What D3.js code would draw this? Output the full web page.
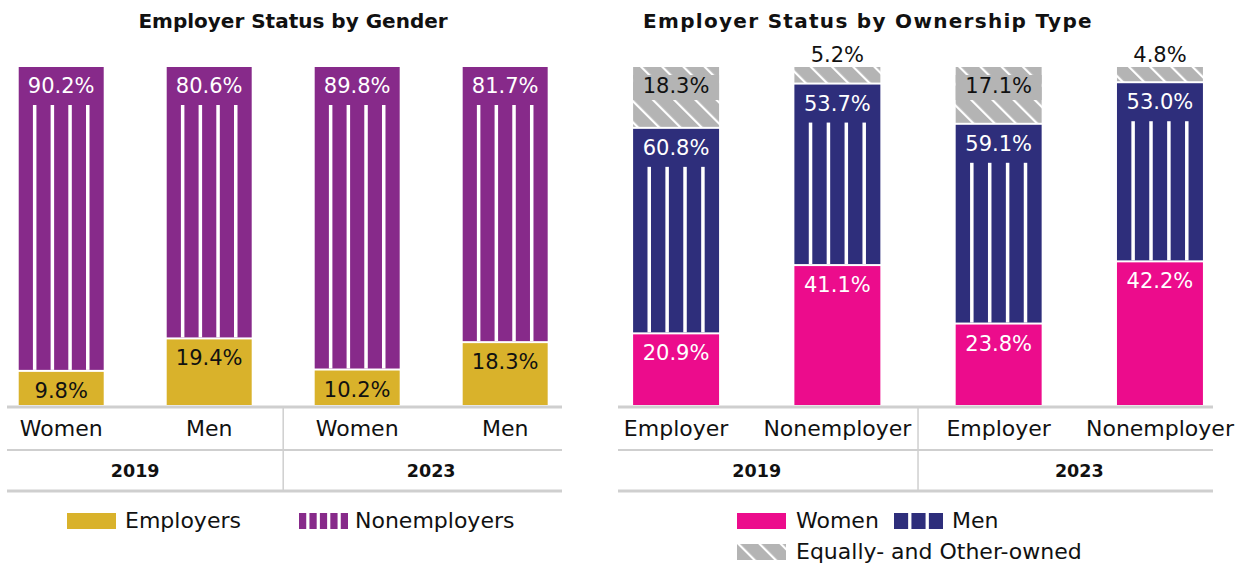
<!DOCTYPE html>
<html>
<head>
<meta charset="utf-8">
<script src="https://cdn.jsdelivr.net/npm/d3@7"></script>
<style>
  body { margin: 0; background: #fff; }
  svg text { font-family: "DejaVu Sans", sans-serif; }
</style>
</head>
<body>
<svg id="chart" width="1238" height="563"></svg>
<script>
// ---- data ----
const years = ["2019", "2023"];
const barYears = ["2019", "2019", "2023", "2023"];

const genderCats = ["Women", "Men", "Women", "Men"];
const employers = [9.8, 19.4, 10.2, 18.3];
const nonemployers = [90.2, 80.6, 89.8, 81.7];

const ownCats = ["Employer", "Nonemployer", "Employer", "Nonemployer"];
const womenOwned = [20.9, 41.1, 23.8, 42.2];
const menOwned = [60.8, 53.7, 59.1, 53.0];
const otherOwned = [18.3, 5.2, 17.1, 4.8];

const colors = {
  gold: "#D9B22B", purple: "#872A8A",
  pink: "#EC0C8C", navy: "#2E2E7B", gray: "#B4B4B4",
  line: "#CFCFCF"
};

const svg = d3.select("#chart");

// hatch pattern for "equally- and other-owned"
const defs = svg.append("defs");
const hatch = defs.append("pattern")
  .attr("id", "hatch")
  .attr("patternUnits", "userSpaceOnUse")
  .attr("width", 15).attr("height", 15)
  .attr("patternTransform", "rotate(-45)");
hatch.append("rect").attr("width", 15).attr("height", 15).attr("fill", colors.gray);
hatch.append("rect").attr("x", 0).attr("width", 2.2).attr("height", 15).attr("fill", "#fff");

const y = d3.scaleLinear().domain([0, 100]).range([405, 67]);

function drawPanel(opt) {
  const g = svg.append("g");
  const idx = d3.range(opt.cats.length);
  const x = d3.scaleBand()
    .domain(idx)
    .range([opt.x0, opt.x1])
    .paddingInner(opt.padIn)
    .paddingOuter(opt.padOut)
    .align(opt.align);
  const bw = x.bandwidth();

  // title
  g.append("text")
    .attr("x", opt.titleX).attr("y", 28)
    .attr("text-anchor", "middle")
    .style("font-weight", "bold").style("font-size", "20px")
    .style("letter-spacing", opt.titleSpacing + "px")
    .attr("fill", "#111")
    .text(opt.title);

  // stacked segments
  idx.forEach(i => {
    let cum = 0;
    opt.series.forEach((s, k) => {
      const v = s.values[i];
      const top = y(cum + v);
      const bottom = y(cum) - (k > 0 ? 2 : 0);
      cum += v;
      const bx = x(i);
      g.append("rect")
        .attr("x", bx).attr("y", top)
        .attr("width", bw).attr("height", bottom - top)
        .attr("fill", s.kind === "hatch" ? "url(#hatch)" : s.color);

      if (s.kind === "stripes" && bottom - top > 38) {
        const sw = 3.5;
        const col = (bw - 4 * sw) / 5;
        for (let j = 1; j <= 4; j++) {
          g.append("rect")
            .attr("x", bx + j * col + (j - 1) * sw)
            .attr("y", top + 38)
            .attr("width", sw).attr("height", bottom - top - 38)
            .attr("fill", "#fff");
        }
      }

      const inside = bottom - top > 30;
      if (inside && s.kind === "hatch") {
        g.append("rect")
          .attr("x", bx).attr("y", top + 8)
          .attr("width", bw).attr("height", 25)
          .attr("fill", s.color);
      }
      g.append("text")
        .attr("x", bx + bw / 2)
        .attr("y", inside ? top + 26 : top - 5)
        .attr("text-anchor", "middle")
        .style("font-size", "21px")
        .attr("fill", inside ? s.label : "#111")
        .text(v.toFixed(1) + "%");
    });
  });

  // category axis
  const axis = g.append("g")
    .attr("transform", "translate(0,436)")
    .call(d3.axisBottom(x).tickSize(0).tickPadding(0).tickFormat(i => opt.cats[i]));
  axis.select(".domain").remove();
  axis.selectAll("text")
    .attr("dy", 0).attr("y", 0)
    .style("font-size", "22px")
    .style("font-family", "DejaVu Sans")
    .attr("fill", "#111");

  // year labels
  years.forEach(yr => {
    const ids = idx.filter(i => barYears[i] === yr);
    const cx = d3.mean(ids, i => x(i) + bw / 2);
    g.append("text")
      .attr("x", cx).attr("y", 477)
      .attr("text-anchor", "middle")
      .style("font-weight", "bold").style("font-size", "17.5px")
      .attr("fill", "#111")
      .text(yr);
  });

  // grid lines
  const sepX = (x(1) + bw + x(2)) / 2;
  g.append("line").attr("x1", sepX).attr("x2", sepX).attr("y1", 407).attr("y2", 491)
    .attr("stroke", colors.line).attr("stroke-width", 1.5);
  [[407, 3], [450, 2], [491, 3]].forEach(([ly, w]) => {
    g.append("line")
      .attr("x1", opt.x0).attr("x2", opt.x1)
      .attr("y1", ly).attr("y2", ly)
      .attr("stroke", colors.line).attr("stroke-width", w);
  });

  // legend
  opt.legend.forEach(item => {
    const lg = g.append("g").attr("transform", `translate(${item.x},${item.y})`);
    const w = 49, h = 16;
    if (item.blocks) {
      const gap = item.gap;
      const bwid = (w - (item.blocks - 1) * gap) / item.blocks;
      d3.range(item.blocks).forEach(j => {
        lg.append("rect").attr("x", j * (bwid + gap)).attr("y", 0)
          .attr("width", bwid).attr("height", h).attr("fill", item.color);
      });
    } else {
      lg.append("rect").attr("width", w).attr("height", h)
        .attr("fill", item.hatch ? "url(#hatch)" : item.color);
    }
    lg.append("text")
      .attr("x", item.tx).attr("y", h - 1)
      .style("font-size", "22px")
      .attr("fill", "#111")
      .text(item.text);
  });
}

drawPanel({
  title: "Employer Status by Gender",
  titleX: 293, titleSpacing: 0,
  cats: genderCats,
  x0: 7, x1: 562, padIn: 0.4257, padOut: 0.088, align: 0.45,
  series: [
    { values: employers, color: colors.gold, kind: "solid", label: "#111" },
    { values: nonemployers, color: colors.purple, kind: "stripes", label: "#fff" }
  ],
  legend: [
    { x: 67, y: 513, color: colors.gold, text: "Employers", tx: 58 },
    { x: 299, y: 513, color: colors.purple, blocks: 5, gap: 3.2, text: "Nonemployers", tx: 56 }
  ]
});

drawPanel({
  title: "Employer Status by Ownership Type",
  titleX: 868, titleSpacing: 1.3,
  cats: ownCats,
  x0: 618, x1: 1213, padIn: 0.467, padOut: 0.078, align: 0.6,
  series: [
    { values: womenOwned, color: colors.pink, kind: "solid", label: "#fff" },
    { values: menOwned, color: colors.navy, kind: "stripes", label: "#fff" },
    { values: otherOwned, color: colors.gray, kind: "hatch", label: "#111" }
  ],
  legend: [
    { x: 737, y: 513, color: colors.pink, text: "Women", tx: 59 },
    { x: 894, y: 513, color: colors.navy, blocks: 3, gap: 3.3, text: "Men", tx: 58 },
    { x: 737, y: 544, color: colors.gray, hatch: true, text: "Equally- and Other-owned", tx: 59 }
  ]
});
</script>
</body>
</html>
